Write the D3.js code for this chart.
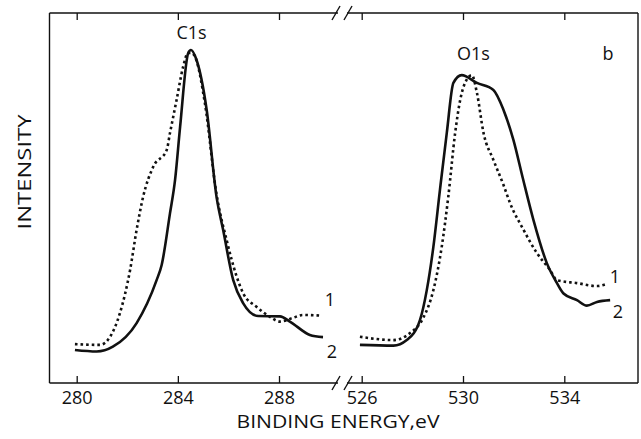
<!DOCTYPE html>
<html><head><meta charset="utf-8">
<script src="https://cdn.jsdelivr.net/npm/d3@7"></script>
<style>body{margin:0;background:#fff}svg{display:block}text{font-family:"Open Sans","DejaVu Sans",sans-serif;fill:#111}</style>
</head><body><svg id="c" width="641" height="439"></svg>
<script>
// C1s region (left panel)
const c1sDottedE = [279.93,280.92,281.32,281.71,282.11,282.37,282.63,283.03,283.56,283.69,283.95,284.21,284.40,284.55,284.68,285.07,285.53,285.93,286.32,286.58,287.11,287.64,288.04,288.55,288.94,289.68];
const c1sDottedI = [10.5,10.3,12.5,18.9,30.5,41.4,50.4,58.5,63.0,67.6,76.5,85.5,89.2,89.2,88.2,75.6,51.0,38.6,28.9,24.3,20.6,17.9,16.6,17.6,18.4,18.2];
const c1sSolidE = [279.93,280.79,281.43,282.37,283.16,283.36,283.69,283.89,284.09,284.41,284.52,284.74,285.14,285.53,285.79,286.19,286.58,287.18,288.04,288.43,289.22,289.74];
const c1sSolidI = [8.9,8.5,9.8,16.2,27.8,31.9,45.9,54.9,69.3,89.2,90.0,87.3,73.8,50.3,41.4,27.8,21.6,18.1,18.0,16.6,13.0,12.4];
// O1s region (right panel)
const o1sDottedE = [525.93,527.25,527.91,528.43,528.83,529.16,529.42,529.69,529.89,530.08,530.35,530.55,530.81,531.20,531.60,531.86,532.39,532.92,533.44,533.71,534.50,535.29,535.68];
const o1sDottedI = [12.5,11.6,13.5,17.6,25.1,36.8,50.4,67.6,76.5,81.1,83.2,78.4,67.6,60.3,53.5,48.6,41.4,35.1,30.5,27.8,27.0,26.2,26.8];
const o1sSolidE = [525.93,527.25,527.78,528.30,528.57,528.83,529.09,529.36,529.62,529.95,530.55,531.20,531.60,531.99,532.36,532.78,533.31,533.71,533.97,534.50,534.89,535.29,535.81];
const o1sSolidI = [10.3,10.1,11.6,17.0,25.1,36.8,52.2,67.6,81.1,83.2,81.1,79.2,73.8,65.7,55.4,44.1,32.4,27.0,24.2,22.4,20.9,21.9,22.4];
const leftTicks = [280,284,288];
const rightTicks = [526,530,534];

const svg = d3.select("#c");
const L=49.5, R=638, T=13, B=383;
const y = d3.scaleLinear().domain([0,100]).range([B,T]);
const xL = d3.scaleLinear().domain([280,288]).range([76.7,279]);
const xR = d3.scaleLinear().domain([526,534]).range([361.7,564.3]);

// frame
const fr = svg.append("g").attr("stroke","#111").attr("stroke-width",1.4).attr("fill","none");
fr.append("line").attr("x1",L).attr("x2",L).attr("y1",T).attr("y2",B);
fr.append("line").attr("x1",R).attr("x2",R).attr("y1",T).attr("y2",B);
[T,B].forEach(yy=>{
  fr.append("line").attr("x1",L).attr("x2",338).attr("y1",yy).attr("y2",yy);
  fr.append("line").attr("x1",347).attr("x2",R).attr("y1",yy).attr("y2",yy);
  [336,348].forEach(cx=>fr.append("line").attr("x1",cx-4).attr("x2",cx+4).attr("y1",yy+7).attr("y2",yy-7));
});

function axes(sc, ticks){
  const gb = svg.append("g").attr("transform",`translate(0,${B})`)
    .call(d3.axisBottom(sc).tickValues(ticks).tickSizeInner(-7).tickSizeOuter(0).tickPadding(8).tickFormat(d3.format("d")));
  gb.select(".domain").remove();
  gb.selectAll("line").attr("stroke","#111").attr("stroke-width",1.3);
  gb.selectAll("text").attr("font-size",18).attr("font-family",'"Open Sans",sans-serif').attr("fill","#111");
  const gt = svg.append("g").attr("transform",`translate(0,${T})`)
    .call(d3.axisTop(sc).tickValues(ticks).tickSizeInner(-7).tickSizeOuter(0).tickFormat(""));
  gt.select(".domain").remove();
  gt.selectAll("line").attr("stroke","#111").attr("stroke-width",1.3);
}
axes(xL,leftTicks); axes(xR,rightTicks);

function curve(sc,E,I,dotted){
  const line = d3.line().x(d=>sc(d[0])).y(d=>y(d[1])).curve(d3.curveMonotoneX);
  svg.append("path").datum(E.map((e,i)=>[e,I[i]])).attr("d",line)
    .attr("fill","none").attr("stroke","#111")
    .attr("stroke-width",2.6)
    .attr("stroke-dasharray",dotted?"2.6,3":null)
    .attr("stroke-linejoin","round");
}
curve(xL,c1sDottedE,c1sDottedI,true);
curve(xL,c1sSolidE,c1sSolidI,false);
curve(xR,o1sDottedE,o1sDottedI,true);
curve(xR,o1sSolidE,o1sSolidI,false);

function txt(x,yy,s,size,anchor){
  return svg.append("text").attr("x",x).attr("y",yy).attr("font-size",size).attr("text-anchor",anchor||"middle").text(s);
}
txt(191.5,39,"C1s",18);
txt(473.5,60,"O1s",18);
txt(608,60,"b",18);
txt(330,306,"1",18);
txt(332,358,"2",18);
txt(615,283,"1",18);
txt(618,318,"2",18);
txt(338,428,"BINDING ENERGY,eV",19).attr("textLength",203).attr("lengthAdjust","spacingAndGlyphs");
svg.append("text").attr("transform","translate(31,172) rotate(-90)").attr("font-size",18)
  .attr("text-anchor","middle").attr("textLength",115).attr("lengthAdjust","spacingAndGlyphs").text("INTENSITY");
</script></body></html>
